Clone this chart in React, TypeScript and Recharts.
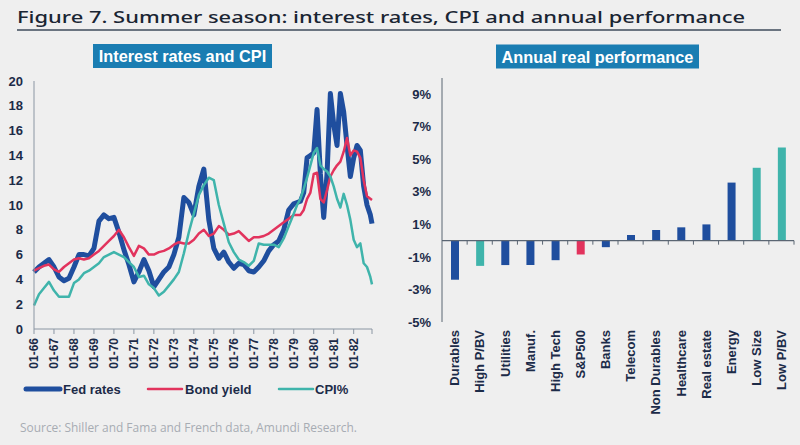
import React from "react";
import { Bar, BarChart, Cell, Line, LineChart, ReferenceLine, XAxis, YAxis } from "recharts";

// month labels "MM-YY": quarterly to 1978, every two months after that
const months = [
  "01-66", "04-66", "07-66", "10-66",
  "01-67", "04-67", "07-67", "10-67",
  "01-68", "04-68", "07-68", "10-68",
  "01-69", "04-69", "07-69", "10-69",
  "01-70", "04-70", "07-70", "10-70",
  "01-71", "04-71", "07-71", "10-71",
  "01-72", "04-72", "07-72", "10-72",
  "01-73", "04-73", "07-73", "10-73",
  "01-74", "04-74", "07-74", "10-74",
  "01-75", "04-75", "07-75", "10-75",
  "01-76", "04-76", "07-76", "10-76",
  "01-77", "04-77", "07-77", "10-77",
  "01-78", "04-78", "07-78", "10-78",
  "01-79", "03-79", "05-79", "07-79", "09-79", "11-79",
  "01-80", "03-80", "05-80", "07-80", "09-80", "11-80",
  "01-81", "03-81", "05-81", "07-81", "09-81", "11-81",
  "01-82", "03-82", "05-82", "07-82", "09-82", "11-82", "12-82",
];

const fedRates = [
  4.6, 5.0, 5.3, 5.6,
  5.0, 4.2, 3.9, 4.1,
  5.0, 6.0, 6.0, 5.9,
  6.5, 8.7, 9.2, 8.9,
  9.0, 7.8, 6.4, 5.2,
  3.8, 4.6, 5.6, 4.7,
  3.4, 4.0, 4.6, 5.0,
  6.0, 7.4, 10.6, 10.2,
  9.2, 11.5, 12.9, 8.8,
  6.5, 5.7, 6.2, 5.4,
  4.9, 5.3, 5.2, 4.7,
  4.6, 5.0, 5.5, 6.3,
  6.8, 7.1, 8.0, 9.6,
  10.1, 10.2, 10.3, 11.0, 13.8, 14.0,
  14.2, 17.7, 12.5, 9.0, 12.5, 19.0,
  16.5, 14.8, 19.0, 17.5, 14.8, 12.3,
  13.8, 14.8, 14.4, 11.5, 10.0, 9.2, 8.5,
];

const bondYield = [
  4.7, 4.9, 5.1, 5.2,
  4.8, 4.6, 5.0, 5.3,
  5.6, 5.7, 5.6, 5.7,
  6.0, 6.3, 6.7, 7.1,
  7.5, 8.0, 7.4, 6.6,
  5.9, 6.7, 6.5, 6.0,
  6.0, 6.2, 6.3, 6.5,
  6.8, 7.0, 6.9, 6.9,
  7.2, 7.7, 8.0, 7.5,
  7.7, 8.3, 8.0, 7.6,
  7.7, 7.9, 7.5, 7.1,
  7.4, 7.4, 7.5, 7.7,
  8.0, 8.3, 8.6, 8.9,
  9.2, 9.2, 9.2, 9.6, 10.5, 11.0,
  12.5, 12.6, 10.5, 10.2, 11.2, 12.3,
  12.8, 13.2, 13.5, 14.3, 15.4, 14.0,
  14.4, 14.3, 13.8, 12.0, 10.7, 10.5, 10.4,
];

const cpi = [
  1.9, 2.8, 3.3, 3.8,
  3.1, 2.6, 2.6, 2.6,
  3.7, 4.0, 4.5, 4.7,
  5.0, 5.3, 5.8, 6.0,
  6.2, 6.0, 5.8, 5.4,
  5.0, 4.2, 4.3, 3.6,
  3.3, 2.7, 3.0, 3.5,
  4.0, 4.6, 6.1, 7.8,
  9.3, 10.8, 11.6, 12.2,
  12.0, 10.0, 8.5, 7.0,
  6.2, 5.6, 5.4, 5.1,
  5.5, 6.9, 6.8, 6.8,
  6.8, 6.6, 7.3, 8.3,
  9.3, 10.0, 10.5, 11.3, 12.2, 13.2,
  14.2, 14.6, 13.2, 12.9, 12.7, 12.3,
  11.5, 10.5, 9.8, 10.9, 10.0, 8.8,
  7.2, 6.6, 6.9, 5.3, 5.0, 4.2, 3.6,
];

const yearTickLabels = [
  "01-66", "01-67", "01-68", "01-69", "01-70", "01-71", "01-72", "01-73", "01-74",
  "01-75", "01-76", "01-77", "01-78", "01-79", "01-80", "01-81", "01-82",
];
const rateTicks = [0, 2, 4, 6, 8, 10, 12, 14, 16, 18, 20];

const perfCats = [
  "Durables", "High P/BV", "Utilities", "Manuf.", "High Tech", "S&P500", "Banks",
  "Telecom", "Non Durables", "Healthcare", "Real estate", "Energy", "Low Size", "Low P/BV",
];
const perfValues = [-2.4, -1.55, -1.5, -1.5, -1.2, -0.85, -0.4, 0.35, 0.65, 0.82, 1.0, 3.57, 4.48, 5.72];
const perfGroups = [
  "sector", "factor", "sector", "sector", "sector", "index", "sector",
  "sector", "sector", "sector", "sector", "sector", "factor", "factor",
];
const perfTicks = [-5, -3, -1, 1, 3, 5, 7, 9];

const NAVY = "#1c2b48";
const BOX = "#1a7db2";
const FONT = "'Liberation Sans', Arial, sans-serif";
const groupColor: Record<string, string> = { sector: "#1f4e9e", factor: "#3fb4ab", index: "#e2335d" };

const series = [
  { key: "fed", name: "Fed rates", color: "#1f4e9e", width: 5, lx: 26, tx: 63 },
  { key: "bond", name: "Bond yield", color: "#e2335d", width: 2.5, lx: 148, tx: 185 },
  { key: "cpi", name: "CPI%", color: "#3fb4ab", width: 2.5, lx: 279, tx: 315 },
];

const toYear = (m: string) => 1900 + Number(m.slice(3)) + (Number(m.slice(0, 2)) - 1) / 12;

const rateData = months.map((m, i) => ({
  t: toYear(m),
  fed: fedRates[i],
  bond: bondYield[i],
  cpi: cpi[i],
}));
const tEnd = toYear(months[months.length - 1]);
const yearTicks = [...yearTickLabels.map(toYear), tEnd];

const perfData = perfCats.map((c, i) => ({ name: c, v: perfValues[i], g: perfGroups[i] }));

function RotTick(props: any) {
  const { x, y, payload, fontSize, label } = props;
  const text = label ? label(payload.value) : payload.value;
  return (
    <text
      x={x}
      y={y}
      transform={`rotate(-90 ${x} ${y})`}
      textAnchor="end"
      dy="0.36em"
      fontSize={fontSize}
      fontFamily={FONT}
      fontWeight={700}
      fill={NAVY}
    >
      {text}
    </text>
  );
}

function ZeroAxis(props: any) {
  const { x1, x2, y1 } = props;
  if (x1 == null || y1 == null) return null;
  const n = perfCats.length;
  const step = (x2 - x1) / n;
  return (
    <g>
      <line x1={x1} x2={x2} y1={y1} y2={y1} stroke="#5b6673" strokeWidth={1.2} />
      {perfCats.map((_, i) => (
        <line key={i} x1={x1 + (i + 1) * step} x2={x1 + (i + 1) * step} y1={y1} y2={y1 + 4} stroke="#5b6673" />
      ))}
    </g>
  );
}

const yTick = (size: number) => ({ fontSize: size, fontFamily: FONT, fontWeight: 700, fill: NAVY });

export default function App() {
  return (
    <div style={{ position: "absolute", left: 0, top: 0, width: 800, height: 445, background: "#efefef", overflow: "hidden" }}>
      <svg width={800} height={445} style={{ position: "absolute", left: 0, top: 0 }}>
        <text x={17} y={23} fontSize={17} fontFamily="'Noto Sans', sans-serif" fontWeight={500} fill="#1a2533" textLength={728} lengthAdjust="spacingAndGlyphs">
          Figure 7. Summer season: interest rates, CPI and annual performance
        </text>
        <line x1={17} x2={781} y1={30} y2={30} stroke="#3e4b5b" strokeWidth={1.5} />
        <rect x={93} y={44} width={179} height={24} fill={BOX} />
        <text x={182.5} y={62} textAnchor="middle" fontSize={16.3} fontFamily={FONT} fontWeight={700} fill="#ffffff">
          Interest rates and CPI
        </text>
        <rect x={496} y={44.5} width={203} height={24} fill={BOX} />
        <text x={597.5} y={62.5} textAnchor="middle" fontSize={16.3} fontFamily={FONT} fontWeight={700} fill="#ffffff">
          Annual real performance
        </text>
        {series.map((s) => (
          <g key={s.key}>
            <line x1={s.lx} x2={s.lx + 34} y1={389} y2={389} stroke={s.color} strokeWidth={s.width} strokeLinecap="round" />
            <text x={s.tx} y={394} fontSize={13} fontFamily={FONT} fontWeight={700} fill={NAVY}>
              {s.name}
            </text>
          </g>
        ))}
        <text x={20} y={432} fontSize={13} fontFamily="'Open Sans', sans-serif" fill="#a7acb3" textLength={337} lengthAdjust="spacingAndGlyphs">
          Source: Shiller and Fama and French data, Amundi Research.
        </text>
      </svg>

      <div style={{ position: "absolute", left: 0, top: 70 }}>
        <LineChart width={380} height={310} data={rateData} margin={{ top: 11, right: 8, bottom: 0, left: 0 }}>
          <XAxis
            dataKey="t"
            type="number"
            domain={[1966, tEnd]}
            ticks={yearTicks}
            interval={0}
            height={51}
            stroke="#8b96a3"
            tickSize={5}
            tickMargin={4}
            tick={(p: any) => (
              <RotTick {...p} fontSize={12} label={(v: number) => (v === tEnd ? "" : yearTickLabels[yearTicks.indexOf(v)])} />
            )}
          />
          <YAxis
            domain={[0, 20]}
            ticks={rateTicks}
            interval={0}
            width={34}
            stroke="#8b96a3"
            tickLine={false}
            tickSize={6}
            tickMargin={5}
            tick={yTick(13)}
          />
          {series.map((s) => (
            <Line
              key={s.key}
              type="linear"
              dataKey={s.key}
              name={s.name}
              stroke={s.color}
              strokeWidth={s.width}
              strokeLinejoin="round"
              dot={false}
              isAnimationActive={false}
            />
          ))}
        </LineChart>
      </div>

      <div style={{ position: "absolute", left: 400, top: 70 }}>
        <BarChart width={400} height={360} data={perfData} margin={{ top: 8, right: 6, bottom: 0, left: 0 }}>
          <XAxis
            dataKey="name"
            interval={0}
            height={108}
            axisLine={false}
            tickLine={false}
            tickSize={0}
            tickMargin={8}
            tick={(p: any) => <RotTick {...p} fontSize={13} />}
          />
          <YAxis
            domain={[-5, 10]}
            ticks={perfTicks}
            interval={0}
            width={42}
            stroke="#5b6673"
            tickLine={false}
            tickSize={6}
            tickMargin={5}
            tick={yTick(13)}
            tickFormatter={(v) => `${v}%`}
          />
          <ReferenceLine y={0} shape={(p: any) => <ZeroAxis {...p} />} />
          <Bar dataKey="v" barSize={8} isAnimationActive={false}>
            {perfData.map((d) => (
              <Cell key={d.name} fill={groupColor[d.g]} />
            ))}
          </Bar>
        </BarChart>
      </div>
    </div>
  );
}
